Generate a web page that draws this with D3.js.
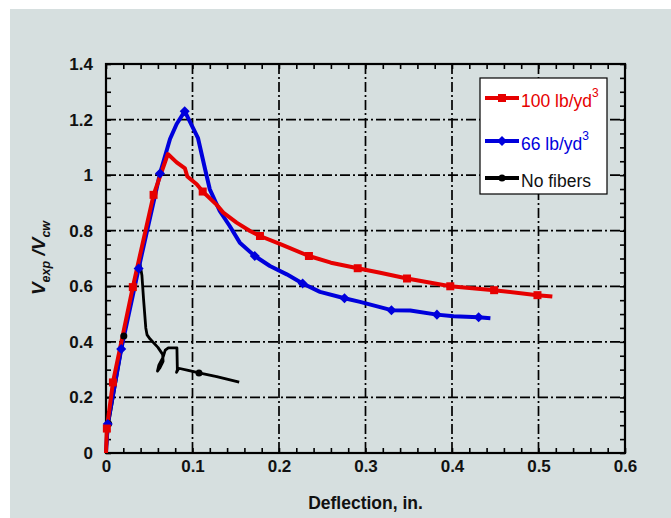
<!DOCTYPE html>
<html>
<head>
<meta charset="utf-8">
<script src="https://cdn.jsdelivr.net/npm/d3@7"></script>
<style>
  body { margin: 0; background: #ffffff; }
  text { font-family: "Liberation Sans", Arial, sans-serif; }
</style>
</head>
<body>
<div id="chart"></div>
<script>
// deflection (in.) vs Vexp/Vcw
const red_line = [[0, 0.0], [0.001, 0.088], [0.008, 0.254], [0.031, 0.597], [0.055, 0.929], [0.0715, 1.076],
    [0.0817, 1.046], [0.0913, 1.024], [0.094, 0.995], [0.1049, 0.967], [0.1118, 0.941], [0.128, 0.893],
    [0.1356, 0.865], [0.151, 0.829], [0.1665, 0.799], [0.178, 0.781], [0.203, 0.75], [0.2346, 0.709],
    [0.26, 0.685], [0.291, 0.665], [0.317, 0.649], [0.348, 0.628], [0.398, 0.6], [0.4487, 0.586],
    [0.4988, 0.568], [0.516, 0.563]]
const red_marks = [[0.001, 0.088], [0.008, 0.254], [0.031, 0.597], [0.055, 0.929], [0.1118, 0.941], [0.178, 0.781],
    [0.2346, 0.709], [0.291, 0.665], [0.348, 0.628], [0.398, 0.6], [0.4487, 0.586], [0.4988, 0.568]]

const blue_line = [[0, 0.0], [0.002, 0.104], [0.0176, 0.374], [0.0377, 0.664], [0.0624, 1.006], [0.074, 1.13],
    [0.0817, 1.184], [0.091, 1.23], [0.1064, 1.133], [0.1145, 1.022], [0.12, 0.949], [0.1315, 0.871],
    [0.143, 0.817], [0.1547, 0.757], [0.172, 0.709], [0.1895, 0.673], [0.209, 0.643], [0.2273, 0.61],
    [0.2474, 0.58], [0.2757, 0.557], [0.2937, 0.544], [0.33, 0.514], [0.3517, 0.5126], [0.3826, 0.498],
    [0.4019, 0.492], [0.4308, 0.4885], [0.4444, 0.485]]
const blue_marks = [[0.002, 0.104], [0.0176, 0.374], [0.0377, 0.664], [0.0624, 1.006], [0.091, 1.23], [0.172, 0.709],
    [0.2273, 0.61], [0.2757, 0.557], [0.33, 0.514], [0.3826, 0.498], [0.4308, 0.4885]]

const black_line = [[0, 0.0], [0.003, 0.105], [0.0206, 0.421], [0.0388, 0.69], [0.0415, 0.64], [0.0435, 0.55],
    [0.046, 0.45], [0.0475, 0.425], [0.051, 0.41], [0.06, 0.38], [0.0655, 0.355], [0.066, 0.33],
    [0.062, 0.305], [0.0595, 0.295], [0.061, 0.315], [0.066, 0.345], [0.0685, 0.37], [0.072, 0.378],
    [0.082, 0.378], [0.0825, 0.3], [0.0815, 0.29], [0.084, 0.305], [0.095, 0.297], [0.1075, 0.288],
    [0.128, 0.275], [0.154, 0.255]]
const black_marks = [[0.003, 0.105], [0.0206, 0.421], [0.1075, 0.288]]

const x_ticks = [0, 0.1, 0.2, 0.3, 0.4, 0.5, 0.6]
const y_ticks = [0, 0.2, 0.4, 0.6, 0.8, 1, 1.2, 1.4]
const x_minor = d3.range(0, 31).map((i) => i * 0.02)
const y_minor = d3.range(0, 29).map((i) => i * 0.05)
const legend_names = ['100 lb/yd', '66 lb/yd', 'No fibers']

const w = 671
const h = 518
const red = '#e60000'
const blue = '#0000dc'

const pLeft = 106, pRight = 625, pTop = 64, pBottom = 453

const xScale = d3.scaleLinear().domain([0, 0.6]).range([pLeft, pRight])
const yScale = d3.scaleLinear().domain([0, 1.4]).range([pBottom, pTop])

const svg = d3.select('#chart')
    .append('svg')
    .attr('width', w)
    .attr('height', h)

// grey panel
svg.append('rect')
    .attr('x', 10).attr('y', 9)
    .attr('width', w - 10).attr('height', h - 9)
    .attr('fill', '#d6dfdf')

// dash-dot grid
svg.selectAll('.vgrid')
    .data(x_ticks.slice(1, -1))
    .enter()
    .append('line')
    .attr('x1', (d) => xScale(d)).attr('x2', (d) => xScale(d))
    .attr('y1', pTop).attr('y2', pBottom)
    .attr('stroke', '#000').attr('stroke-width', 1.7)
    .attr('stroke-dasharray', '10,3,2,3')

svg.selectAll('.hgrid')
    .data(y_ticks.slice(1, -1))
    .enter()
    .append('line')
    .attr('x1', pLeft).attr('x2', pRight)
    .attr('y1', (d) => yScale(d)).attr('y2', (d) => yScale(d))
    .attr('stroke', '#000').attr('stroke-width', 1.7)
    .attr('stroke-dasharray', '10,3,2,3')

// minor ticks, pointing inward on all four sides
svg.append('g').attr('transform', `translate(0,${pBottom})`)
    .call(d3.axisBottom(xScale).tickValues(x_minor).tickSizeInner(-5).tickSizeOuter(0).tickFormat(''))
svg.append('g').attr('transform', `translate(0,${pTop})`)
    .call(d3.axisTop(xScale).tickValues(x_minor).tickSizeInner(-5).tickSizeOuter(0).tickFormat(''))
svg.append('g').attr('transform', `translate(${pLeft},0)`)
    .call(d3.axisLeft(yScale).tickValues(y_minor).tickSizeInner(-5).tickSizeOuter(0).tickFormat(''))
svg.append('g').attr('transform', `translate(${pRight},0)`)
    .call(d3.axisRight(yScale).tickValues(y_minor).tickSizeInner(-5).tickSizeOuter(0).tickFormat(''))
svg.selectAll('.domain').remove()
svg.selectAll('.tick line').attr('stroke', '#000').attr('stroke-width', 1.6)

// tick labels
const xLab = svg.append('g').attr('transform', `translate(0,${pBottom})`)
    .call(d3.axisBottom(xScale).tickValues(x_ticks).tickSize(0).tickPadding(7).tickFormat((d) => String(d)))
const yLab = svg.append('g').attr('transform', `translate(${pLeft},0)`)
    .call(d3.axisLeft(yScale).tickValues(y_ticks).tickSize(0).tickPadding(13).tickFormat((d) => String(d)))
xLab.select('.domain').remove()
yLab.select('.domain').remove()
svg.selectAll('g text')
    .attr('font-family', '"Liberation Sans", Arial, sans-serif')
    .attr('font-size', 17)
    .attr('font-weight', 'bold')
    .attr('fill', '#111')

// frame
svg.append('rect')
    .attr('x', pLeft).attr('y', pTop)
    .attr('width', pRight - pLeft).attr('height', pBottom - pTop)
    .attr('fill', 'none').attr('stroke', '#000').attr('stroke-width', 2.2)

// axis titles
svg.append('text')
    .attr('x', (pLeft + pRight) / 2).attr('y', 509)
    .attr('text-anchor', 'middle')
    .attr('font-size', 17.5).attr('font-weight', 'bold').attr('fill', '#111')
    .text('Deflection, in.')

const yt = svg.append('text')
    .attr('transform', 'translate(45,258) rotate(-90)')
    .attr('text-anchor', 'middle')
    .attr('font-size', 19).attr('font-weight', 'bold').attr('font-style', 'italic').attr('fill', '#111')
yt.append('tspan').text('V')
yt.append('tspan').attr('font-size', 12.5).attr('dy', 5).text('exp')
yt.append('tspan').attr('dy', -5).text(' /V')
yt.append('tspan').attr('font-size', 12.5).attr('dy', 5).text('cw')

// curves
const line = d3.line().x((d) => xScale(d[0])).y((d) => yScale(d[1]))

svg.append('path').datum(black_line)
    .attr('d', line).attr('fill', 'none').attr('stroke', '#000')
    .attr('stroke-width', 2.8).attr('stroke-linejoin', 'round')
svg.append('path').datum(blue_line)
    .attr('d', line).attr('fill', 'none').attr('stroke', blue)
    .attr('stroke-width', 4).attr('stroke-linejoin', 'round')
svg.append('path').datum(red_line)
    .attr('d', line).attr('fill', 'none').attr('stroke', red)
    .attr('stroke-width', 4).attr('stroke-linejoin', 'round')

svg.selectAll('.bm').data(black_marks).enter().append('circle')
    .attr('cx', (d) => xScale(d[0])).attr('cy', (d) => yScale(d[1]))
    .attr('r', 3.5).attr('fill', '#000')
svg.selectAll('.blm').data(blue_marks).enter().append('path')
    .attr('d', d3.symbol(d3.symbolDiamond2, 64))
    .attr('transform', (d) => `translate(${xScale(d[0])},${yScale(d[1])})`)
    .attr('fill', blue)
svg.selectAll('.rm').data(red_marks).enter().append('rect')
    .attr('x', (d) => xScale(d[0]) - 4).attr('y', (d) => yScale(d[1]) - 4)
    .attr('width', 8).attr('height', 8).attr('fill', red)

// legend
const lg = svg.append('g')
lg.append('rect')
    .attr('x', 480).attr('y', 78).attr('width', 127).attr('height', 116)
    .attr('fill', '#fff').attr('stroke', '#000').attr('stroke-width', 1.2)

const legend_colors = [red, blue, '#000']
const legend_y = [98, 141, 178]
legend_names.forEach((name, i) => {
    const y = legend_y[i]
    lg.append('line')
        .attr('x1', 485).attr('x2', 519).attr('y1', y).attr('y2', y)
        .attr('stroke', legend_colors[i]).attr('stroke-width', 4)
    if (i === 0) {
        lg.append('rect').attr('x', 498).attr('y', y - 4).attr('width', 8).attr('height', 8).attr('fill', red)
    } else if (i === 1) {
        lg.append('path').attr('d', d3.symbol(d3.symbolDiamond2, 64))
            .attr('transform', `translate(502,${y})`).attr('fill', blue)
    } else {
        lg.append('circle').attr('cx', 502).attr('cy', y).attr('r', 3.5).attr('fill', '#000')
    }
    const t = lg.append('text')
        .attr('x', 521).attr('y', y + 9)
        .attr('font-size', 17.5).attr('fill', i === 2 ? '#111' : legend_colors[i])
        .text(name)
    if (i < 2) {
        t.append('tspan').attr('font-size', 12).attr('dy', -10).text('3')
    }
})
</script>
</body>
</html>
